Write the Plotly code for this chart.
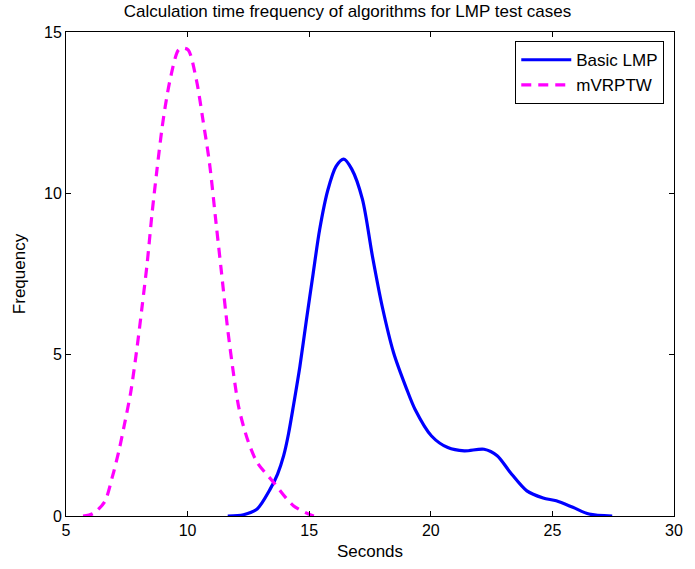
import plotly.graph_objects as go

title_text = "Calculation time frequency of algorithms for LMP test cases"
x_label = "Seconds"
y_label = "Frequency"

basic_name = "Basic LMP"
basic_x = [11.65, 12.3, 12.86, 13.4, 13.7, 13.95, 14.15, 14.35, 14.62, 14.89, 15.16, 15.43, 15.77, 16.11,
           16.42, 16.75, 17.19, 17.6, 18.0, 18.47, 19.0, 19.35, 20.03, 20.7, 21.38, 22.19, 22.73,
           23.27, 23.95, 24.62, 25.16, 25.84, 26.51, 27.46]
basic_y = [0, 0.04, 0.22, 0.84, 1.3, 1.87, 2.55, 3.41, 4.65, 6.1, 7.5, 8.88, 10.11, 10.84,
           11.06, 10.75, 9.81, 8.05, 6.5, 5.06, 3.95, 3.31, 2.48, 2.12, 2.02, 2.07, 1.87,
           1.35, 0.78, 0.56, 0.47, 0.27, 0.06, 0]

mv_name = "mVRPTW"
mv_x = [5.7, 6.1, 6.58, 6.92, 7.19, 7.39, 7.66, 7.93, 8.13, 8.34, 8.54, 8.74, 8.94, 9.08, 9.28,
        9.62, 9.82, 10.03, 10.36, 10.63, 10.9, 11.17, 11.38, 11.65, 11.92, 12.12, 12.46, 12.86,
        13.54, 14.35, 15.16, 15.4]
mv_y = [0, 0.07, 0.43, 1.25, 2.07, 2.79, 3.83, 5.27, 6.5, 7.85, 9.39, 10.73, 11.97, 12.69, 13.52,
        14.44, 14.5, 14.44, 13.52, 12.28, 10.94, 9.08, 7.64, 5.78, 4.24, 3.31, 2.38, 1.66,
        1.04, 0.32, 0.01, 0]

x_ticks = [5, 10, 15, 20, 25, 30]
y_ticks = [0, 5, 10, 15]

font_family = "Liberation Sans, Arial, sans-serif"

fig = go.Figure()
fig.add_trace(go.Scatter(x=basic_x, y=basic_y, mode="lines", name=basic_name,
                         line=dict(color="#0000ff", width=3.2, shape="spline", smoothing=0.8)))
fig.add_trace(go.Scatter(x=mv_x, y=mv_y, mode="lines", name=mv_name,
                         line=dict(color="#ff00ff", width=3.2, dash="10px,7px", shape="spline", smoothing=0.8)))

axis_common = dict(showline=True, linecolor="black", linewidth=1, mirror="ticks",
                   ticks="inside", ticklen=5, tickcolor="black", showgrid=False, zeroline=False,
                   tickfont=dict(size=16, color="black", family=font_family))

fig.update_layout(
    width=695, height=569,
    margin=dict(l=66, r=12, t=32, b=52),
    paper_bgcolor="white", plot_bgcolor="white",
    font=dict(family=font_family, color="black", size=16),
    title=dict(text=title_text, x=0.5, xanchor="center", y=1 - 11 / 569, yanchor="middle",
               font=dict(size=17, color="black", family=font_family)),
    xaxis=dict(range=[5, 30], tickvals=x_ticks, title=dict(text=x_label, standoff=6,
               font=dict(size=17)), **axis_common),
    yaxis=dict(range=[0, 15], tickvals=y_ticks, title=dict(text=y_label, standoff=14,
               font=dict(size=17)), **axis_common),
    legend=dict(x=0.984, xanchor="right", y=0.981, yanchor="top", bgcolor="white",
                bordercolor="black", borderwidth=1, font=dict(size=17, family=font_family),
                tracegroupgap=0, itemwidth=50),
    showlegend=True,
)

fig.write_html("out.html")
